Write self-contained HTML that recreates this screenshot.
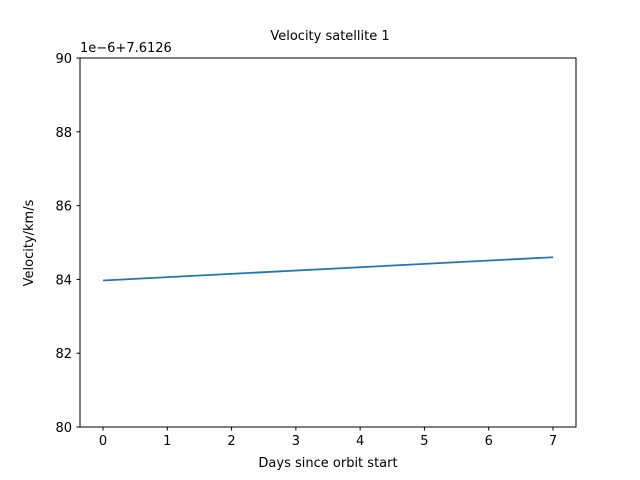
<!DOCTYPE html>
<html><head><meta charset="utf-8"><style>
body{margin:0;background:#fff;}
svg{display:block;font-family:"DejaVu Sans","Liberation Sans",sans-serif;}
</style></head><body>
<svg id="chart" width="640" height="480">
<rect width="640" height="480" fill="#fff"/>
<text x="330" y="40" font-size="13" text-anchor="middle">Velocity satellite 1</text>
<text x="80" y="52" font-size="13">1e−6+7.6126</text>
<text x="328" y="467" font-size="13" text-anchor="middle">Days since orbit start</text>
<text transform="translate(33,243) rotate(-90)" font-size="13" text-anchor="middle">Velocity/km/s</text>
<g id="ticks"></g>
<g id="marks"></g>
<rect x="80" y="58" width="496" height="369" fill="none" stroke="#000" stroke-width="1"/>
</svg>
<script>
const xTicks=[0,1,2,3,4,5,6,7];
const yTicks=[80,82,84,86,88,90];
const days=[0,7];
const velocity=[83.97,84.6];
const X=v=>103+v*(450/7);
const Y=v=>427-(v-80)*36.9;
const ns="http://www.w3.org/2000/svg";
const t=document.getElementById('ticks');
function el(n,a,p){const e=document.createElementNS(ns,n);for(const k in a)e.setAttribute(k,a[k]);p.appendChild(e);return e;}
xTicks.forEach(v=>{
 const l=el('line',{x1:X(v),x2:X(v),y1:427,y2:430.5,stroke:'#000'},t);
 
 
 const s=el('text',{x:X(v),y:445,'font-size':13,'text-anchor':'middle'},t);s.textContent=v;
 
 
});
yTicks.forEach(v=>{
 const l=el('line',{x1:76.5,x2:80,y1:Y(v),y2:Y(v),stroke:'#000'},t);
 
 
 const s=el('text',{x:72,y:Y(v)+5,'font-size':13,'text-anchor':'end'},t);s.textContent=v;
 
 
});
const pts=days.map((d,i)=>X(d)+','+Y(velocity[i])).join(' ');
const pl=el('polyline',{points:pts,fill:'none',stroke:'#1f77b4','stroke-width':1.8},document.getElementById('marks'));


</script>
</body></html>
